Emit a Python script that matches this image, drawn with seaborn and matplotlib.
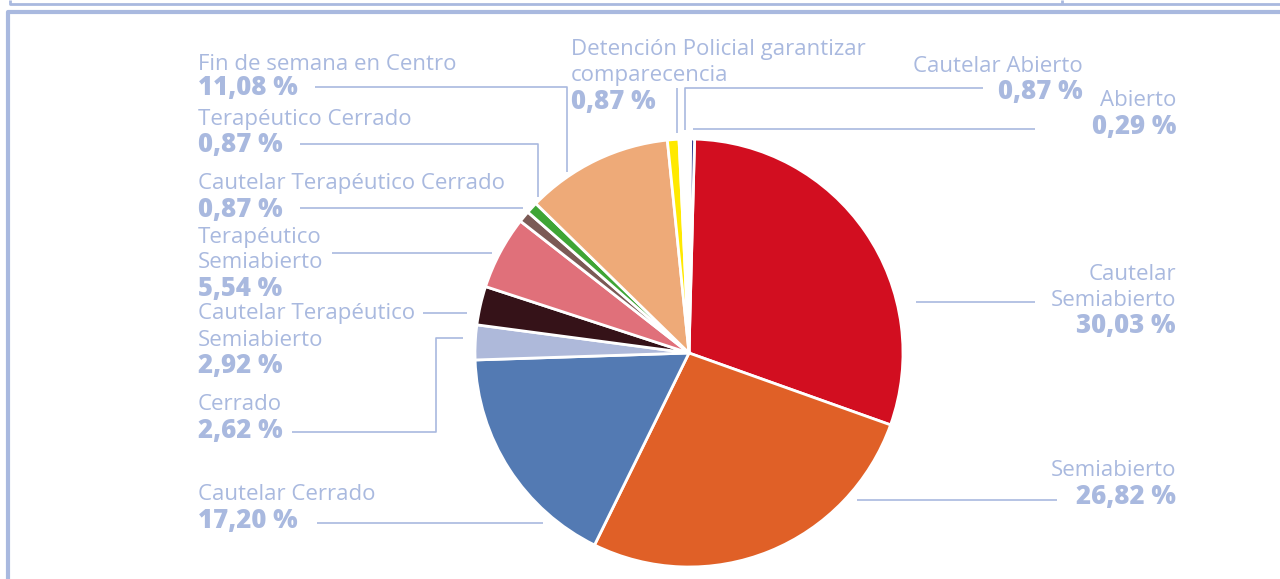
import matplotlib
matplotlib.use("Agg")
import matplotlib.pyplot as plt
import seaborn as sns

# Data (clockwise from 12 o'clock)
categories = ["Cautelar Semiabierto", "Semiabierto", "Cautelar Cerrado", "Cerrado",
              "Cautelar Terapéutico Semiabierto", "Terapéutico Semiabierto",
              "Cautelar Terapéutico Cerrado", "Terapéutico Cerrado",
              "Fin de semana en Centro", "Detención Policial garantizar comparecencia",
              "Cautelar Abierto", "Abierto"]
values = [30.03, 26.82, 17.20, 2.62, 2.92, 5.54, 0.87, 0.87, 11.08, 0.87, 0.87, 0.29]
colors = ["#D20E20", "#E06027", "#537AB3", "#AEB9DA", "#351218", "#E0707A",
          "#7B5A55", "#3FA535", "#EEAA78", "#FFE900", "#FFFFFF", "#2B3990"]

sns.set_theme(style="white")
plt.rcParams["font.family"] = ["Open Sans", "DejaVu Sans"]

W, H = 1280, 579
LBL = "#A9B9DF"
fig = plt.figure(figsize=(W / 100, H / 100), dpi=100)
ax = fig.add_axes([0, 0, 1, 1])

ax.pie(values, colors=colors, startangle=88.5, counterclock=False,
       center=(689, H - 353), radius=214,
       wedgeprops=dict(edgecolor="white", linewidth=2))
ax.set_xlim(0, W)
ax.set_ylim(0, H)
ax.set_aspect("equal")
ax.axis("off")


def line(xs, ys, lw=1.2):
    ax.plot(xs, [H - y for y in ys], color=LBL, lw=lw, solid_capstyle="butt")


def txt(x, y, s, bold=False, ha="left"):
    ax.text(x, H - y - 2, s, ha=ha, va="center", color=LBL,
            fontsize=18.5 if bold else 16, fontweight="heavy" if bold else "normal")


# frame
line([10, 10, W], [0, 4, 4], lw=2)
line([1062, 1062], [0, 4], lw=2)
line([8, 8, W], [H, 12, 12], lw=3)

# left labels
L = 198
txt(L, 62, "Fin de semana en Centro"); txt(L, 86, "11,08 %", True)
txt(L, 118, "Terapéutico Cerrado"); txt(L, 143, "0,87 %", True)
txt(L, 182, "Cautelar Terapéutico Cerrado"); txt(L, 208, "0,87 %", True)
txt(L, 236, "Terapéutico"); txt(L, 261, "Semiabierto"); txt(L, 287, "5,54 %", True)
txt(L, 312, "Cautelar Terapéutico"); txt(L, 338, "Semiabierto"); txt(L, 364, "2,92 %", True)
txt(L, 403, "Cerrado"); txt(L, 429, "2,62 %", True)
txt(L, 493, "Cautelar Cerrado"); txt(L, 519, "17,20 %", True)

# top labels
txt(571, 47, "Detención Policial garantizar"); txt(571, 74, "comparecencia")
txt(571, 100, "0,87 %", True)
txt(1083, 64, "Cautelar Abierto", ha="right"); txt(1083, 90, "0,87 %", True, ha="right")
txt(1176, 99, "Abierto", ha="right"); txt(1176, 125, "0,29 %", True, ha="right")

# right labels
txt(1176, 272, "Cautelar", ha="right"); txt(1176, 298, "Semiabierto", ha="right")
txt(1176, 324, "30,03 %", True, ha="right")
txt(1176, 469, "Semiabierto", ha="right"); txt(1176, 495, "26,82 %", True, ha="right")

# leader lines
line([315, 567, 567], [87, 87, 172])
line([300, 538, 538], [144, 144, 197])
line([300, 523], [208, 208])
line([332, 492], [253, 253])
line([423, 467], [313, 313])
line([292, 436, 436, 463], [432, 432, 338, 338])
line([317, 543], [523, 523])
line([857, 1057], [500, 500])
line([916, 1035], [302, 302])
line([677, 677], [88, 133])
line([983, 685, 685], [88, 88, 130])
line([693, 1035], [129, 129])

fig.savefig("out.png", dpi=100)
